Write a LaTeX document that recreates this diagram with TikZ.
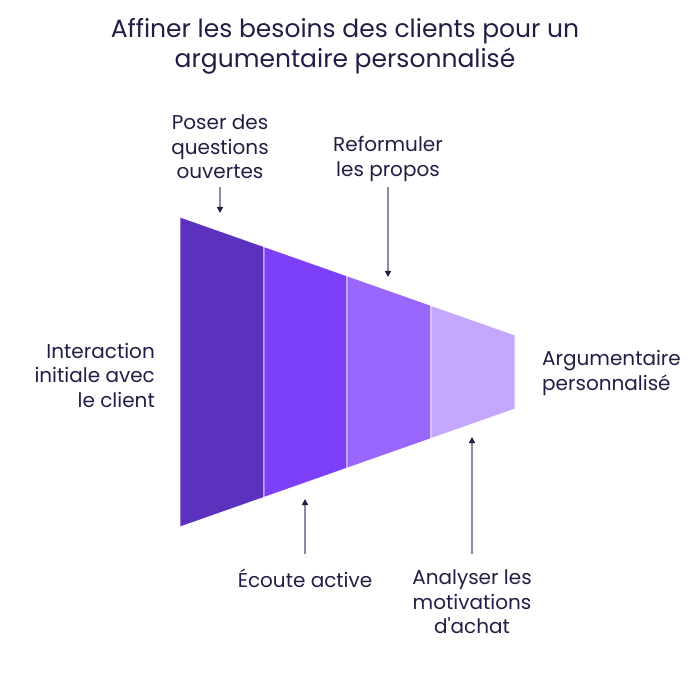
\documentclass[tikz,border=0pt]{standalone}
\usepackage{fontspec}
\setmainfont{Poppins}
\usetikzlibrary{arrows.meta, positioning, calc}

\definecolor{ink}{HTML}{221E45}
\definecolor{wire}{HTML}{8E8AA5}
\definecolor{segA}{HTML}{5C31BD}
\definecolor{segB}{HTML}{7B40F8}
\definecolor{segC}{HTML}{9966FE}
\definecolor{segD}{HTML}{C4A8FD}

\tikzset{
  lbl/.style={text=ink, inner sep=0pt, align=center, font=\fontsize{20}{24.5}\selectfont},
  seg/.style={draw=white, line width=0.8pt},
  arr/.style={-{Triangle[length=6pt, width=6pt, color=ink]}, draw=wire, line width=1.4pt},
}

\begin{document}
\begin{tikzpicture}[x=1pt, y=-1pt]
\useasboundingbox (0,0) rectangle (696,684);

% Title
\node[text=ink, align=center, font=\fontsize{25}{30}\selectfont] (title) at (345,46) {Affiner les besoins des clients pour un\\argumentaire personnalisé};

% Funnel segments
\fill[segA, seg] (180,217) -- (264,246.6) -- (264,497.4) -- (180,527) -- cycle;
\fill[segB, seg] (264,246.6) -- (347,275.8) -- (347,468.2) -- (264,497.4) -- cycle;
\fill[segC, seg] (347,275.8) -- (431,305.4) -- (431,438.6) -- (347,468.2) -- cycle;
\fill[segD, seg] (431,305.4) -- (515,335) -- (515,409) -- (431,438.6) -- cycle;

% Labels
\node[lbl] (poser) at (220,147) {Poser des\\questions\\ouvertes};
\node[lbl] (reform) at (388,159) {Reformuler\\les propos};
\node[lbl] (ecoute) at (305,578) {Écoute active};
\node[lbl] (analyse) at (472,602) {Analyser les\\motivations\\d\textquotesingle achat};
\node[lbl, align=right, anchor=east] (start) at (155,375) {Interaction\\initiale avec\\le client};
\node[lbl, align=left, anchor=west] (result) at (542,373) {Argumentaire\\personnalisé};

% Arrow ends
\coordinate (tq) at (220,213);
\coordinate (tr) at (388,277);
\coordinate (te) at (305,499);
\coordinate (ta) at (472,437);

\draw[arr, shorten <=8pt] (poser) -- (tq);
\draw[arr, shorten <=5pt] (reform) -- (tr);
\draw[arr, shorten <=14pt] (ecoute) -- (te);
\draw[arr, shorten <=16pt] (analyse) -- (ta);
\end{tikzpicture}
\end{document}
